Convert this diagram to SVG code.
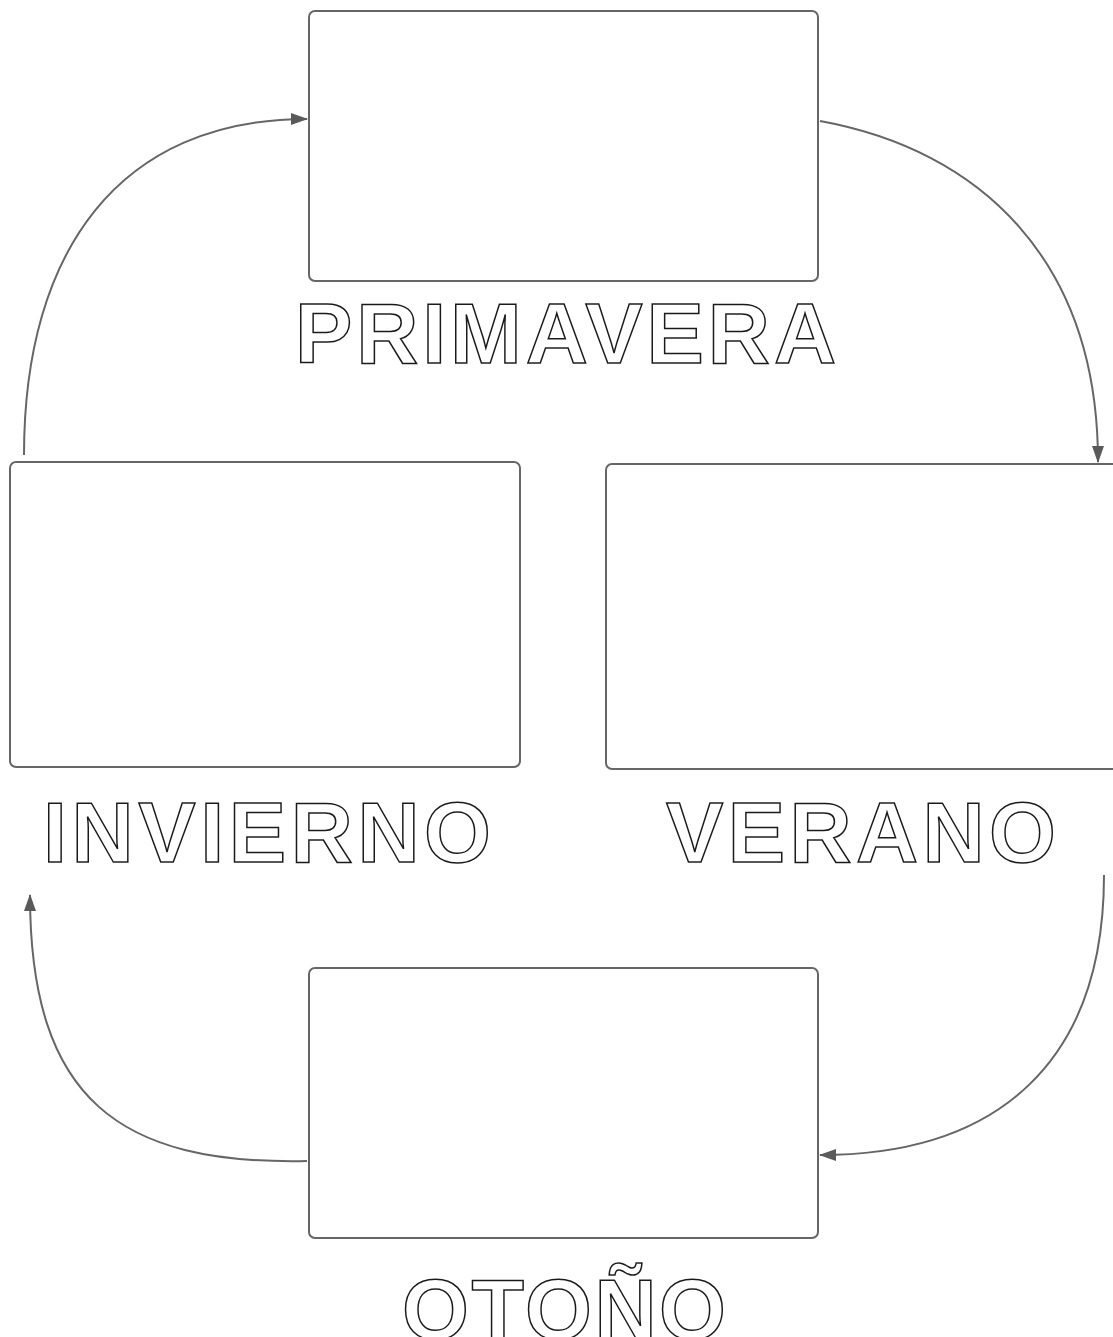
<svg xmlns="http://www.w3.org/2000/svg" width="1113" height="1337" viewBox="0 0 1113 1337">
<style>
.box{fill:#fff;stroke:#666;stroke-width:2}
.lbl{font-family:"Liberation Sans",Arial,sans-serif;font-size:86px;font-weight:bold;fill:#fff;stroke:#1a1a1a;stroke-width:1.5}
.con{fill:none;stroke:#666;stroke-width:2}
</style>
<defs>
<marker id="arr" viewBox="0 0 17 12" refX="16" refY="6" markerWidth="17" markerHeight="12" markerUnits="userSpaceOnUse" orient="auto">
<path d="M0,0 L17,6 L0,12 Z" fill="#5a5a5a"/>
</marker>
</defs>
<rect width="1113" height="1337" fill="#fff"/>
<g id="connectors">
<path class="con" d="M24,455 C24,250 120,119 307,119" marker-end="url(#arr)"/>
<path class="con" d="M820,121 C980,150 1098,260 1098,462" marker-end="url(#arr)"/>
<path class="con" d="M1104,875 C1104,1060 1000,1155 820,1155" marker-end="url(#arr)"/>
<path class="con" d="M307,1161 C120,1165 30,1100 30,895" marker-end="url(#arr)"/>
</g>
<g id="primavera">
<rect class="box" x="309" y="11" width="509" height="270" rx="6"/>
<text class="lbl" x="295" y="363" textLength="541" lengthAdjust="spacing">PRIMAVERA</text>
</g>
<g id="invierno">
<rect class="box" x="10" y="462" width="510" height="305" rx="6"/>
<text class="lbl" x="43" y="862" textLength="448" lengthAdjust="spacing">INVIERNO</text>
</g>
<g id="verano">
<rect class="box" x="606" y="464" width="520" height="305" rx="6"/>
<text class="lbl" x="666" y="862" textLength="390" lengthAdjust="spacing">VERANO</text>
</g>
<g id="otono">
<rect class="box" x="309" y="968" width="509" height="270" rx="6"/>
<text class="lbl" x="402" y="1339" textLength="324" lengthAdjust="spacing">OTOÑO</text>
</g>
</svg>
